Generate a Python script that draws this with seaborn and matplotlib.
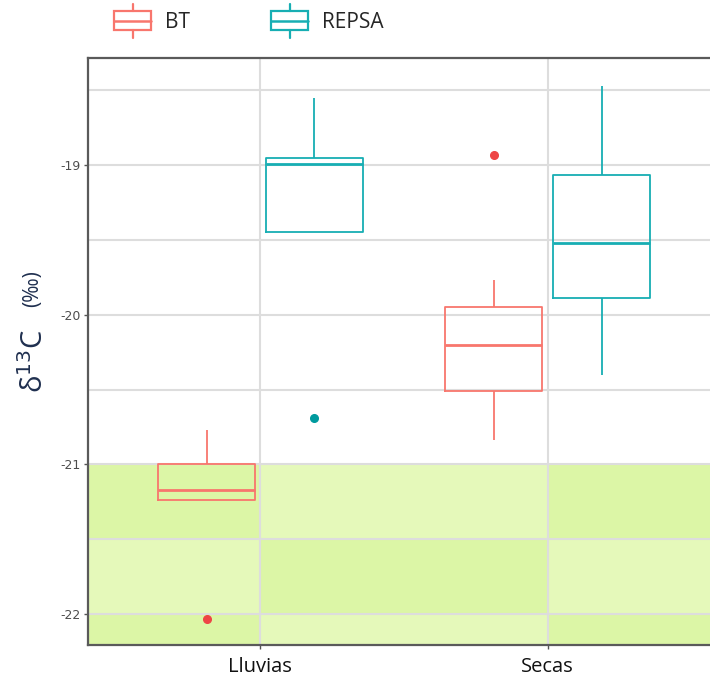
import numpy as np
import pandas as pd
import matplotlib
matplotlib.use("Agg")
import matplotlib.pyplot as plt
import seaborn as sns
from matplotlib.legend_handler import HandlerBase
from matplotlib.patches import Rectangle, Patch
from matplotlib.lines import Line2D
from matplotlib.colors import to_hex

# ---------------- data ----------------
seasons = ["Lluvias", "Secas"]
sites = ["BT", "REPSA"]
bt_lluvias = [-22.03, -21.24, -21.24, -21.20, -21.17, -21.10, -21.00, -20.90, -20.77]
repsa_lluvias = [-20.69, -19.45, -19.45, -19.20, -18.99, -18.97, -18.95, -18.80, -18.55]
bt_secas = [-20.84, -20.60, -20.51, -20.35, -20.20, -20.05, -19.95, -19.77, -18.93]
repsa_secas = [-20.40, -20.00, -19.89, -19.70, -19.52, -19.30, -19.07, -18.80, -18.47]
y_ticks = [-22, -21, -20, -19]
y_label_main = "δ$^{13}$C"
y_label_unit = "(‰)"

rows = []
for season, site, vals in [("Lluvias", "BT", bt_lluvias), ("Lluvias", "REPSA", repsa_lluvias),
                           ("Secas", "BT", bt_secas), ("Secas", "REPSA", repsa_secas)]:
    for v in vals:
        rows.append({"season": season, "site": site, "d13C": v})
df = pd.DataFrame(rows)

# ---------------- style ----------------
palette = {"BT": "#F8766D", "REPSA": "#17AEB3"}
flier_colors = {"BT": "#EE4545", "REPSA": "#009A9E"}
green_dark = "#DCF6A6"
green_light = "#E5F9BA"

W, H = 710, 682
fig = plt.figure(figsize=(W / 100, H / 100), dpi=100)
sns.set_style("white")
ax = fig.add_axes([88 / W, 1 - 645 / H, (720 - 88) / W, (645 - 58) / H])

ymin, ymax = -22.207, -18.285
xmin, xmax = -0.6, 1.6

# green shaded band (checker pattern as in reference)
col_edges = [xmin, 0, 1, xmax]
row_edges = [-21, -21.5, -22, ymin]
for i in range(3):
    for j in range(3):
        c = green_dark if (i + j) % 2 == 0 else green_light
        ax.add_patch(Rectangle((col_edges[i], row_edges[j + 1]),
                               col_edges[i + 1] - col_edges[i],
                               row_edges[j] - row_edges[j + 1],
                               facecolor=c, edgecolor="none", zorder=0.2))

sns.boxplot(data=df, x="season", y="d13C", hue="site", order=seasons, hue_order=sites,
            palette=palette, fill=False, width=0.75, gap=0.1, whis=1.5,
            linewidth=1.3, legend=False, ax=ax,
            medianprops=dict(linewidth=2.0),
            capprops=dict(linewidth=0),
            flierprops=dict(marker="o", markersize=5.5))

# recolour outliers
pal_hex = {to_hex(v): k for k, v in palette.items()}
for ln in ax.lines:
    if ln.get_marker() == "o":
        key = pal_hex.get(to_hex(ln.get_color()))
        if key is None:
            key = pal_hex.get(to_hex(ln.get_markeredgecolor()))
        if key is not None:
            ln.set_markerfacecolor(flier_colors[key])
            ln.set_markeredgecolor(flier_colors[key])

ax.set_yticks(y_ticks)
ax.set_yticklabels([str(t) for t in y_ticks])
ax.set_yticks(np.arange(-22.5, -18.0, 0.5), minor=True)
ax.set_xlim(xmin, xmax)
ax.set_ylim(ymin, ymax)
ax.grid(True, which="major", color="#DDDDDD", linewidth=1.5)
ax.grid(True, which="minor", axis="y", color="#DDDDDD", linewidth=1.5)
ax.set_axisbelow(True)
for ln in ax.get_xgridlines() + ax.get_ygridlines():
    ln.set_zorder(0.5)

ax.set_xlabel("")
ax.set_ylabel("")
ax.tick_params(axis="y", which="major", length=3, width=1, color="#555555",
               labelsize=9, labelcolor="#4D4D4D", pad=2, left=True)
ax.tick_params(axis="y", which="minor", length=0)
ax.tick_params(axis="x", length=3, width=1, color="#555555", labelsize=14.5,
               labelcolor="#111111", pad=6, bottom=True)
for lab in ax.get_xticklabels():
    lab.set_fontfamily("Open Sans")
for sp in ax.spines.values():
    sp.set_visible(True)
    sp.set_color("#5A5A5A")
    sp.set_linewidth(1.6)

# y label
fig.text(43 / W, 1 - 393 / H, y_label_main, rotation=90, rotation_mode="anchor",
         ha="left", va="baseline", fontsize=21, color="#1F2F4F", family="Open Sans")
fig.text(38 / W, 1 - 307 / H, y_label_unit, rotation=90, rotation_mode="anchor",
         ha="left", va="baseline", fontsize=15, color="#1F2F4F", family="Open Sans")


# legend with box glyphs
class BoxHandler(HandlerBase):
    def create_artists(self, legend, orig_handle, xdescent, ydescent, width, height,
                       fontsize, trans):
        c = orig_handle.get_edgecolor()
        x0, y0 = -xdescent, -ydescent
        ext = height * 0.4
        arts = [
            Rectangle((x0, y0), width, height, facecolor="white", edgecolor=c,
                      linewidth=1.6, transform=trans),
            Line2D([x0, x0 + width], [y0 + height / 2] * 2, color=c, linewidth=1.8,
                   transform=trans),
            Line2D([x0 + width / 2] * 2, [y0 + height, y0 + height + ext], color=c,
                   linewidth=1.6, transform=trans),
            Line2D([x0 + width / 2] * 2, [y0, y0 - ext], color=c, linewidth=1.6,
                   transform=trans),
        ]
        return arts


handles = [Patch(edgecolor=palette[s], facecolor="white", label=s) for s in sites]
fig.legend(handles=handles, labels=sites, handler_map={Patch: BoxHandler()},
           loc="center left", bbox_to_anchor=(114 / W, 1 - 22 / H), ncol=2,
           frameon=False, prop={"family": "Open Sans", "size": 15},
           handlelength=1.78, handleheight=1.01, handletextpad=0.67,
           columnspacing=3.9, borderaxespad=0, borderpad=0)

fig.savefig("out.png", dpi=100)
